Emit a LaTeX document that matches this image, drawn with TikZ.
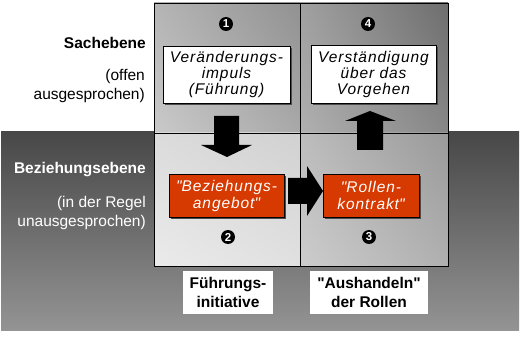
\documentclass[tikz,border=0pt]{standalone}
\usepackage{fontspec}
\setmainfont{Liberation Sans}
\newfontfamily\boxfont[LetterSpace=6]{Liberation Sans}
\usetikzlibrary{shadings}
\definecolor{redbox}{RGB}{214,58,0}
\tikzset{
  lbl/.style={anchor=east, align=right, inner sep=0pt, font=\fontsize{15.5}{18.5}\selectfont},
  wbox/.style={draw=black, line width=0.8pt, fill=white, align=center, inner sep=0pt,
     font=\boxfont\itshape\fontsize{15.5}{16}\selectfont},
  rbox/.style={draw=black, line width=0.8pt, fill=redbox, text=white, align=center, inner sep=0pt,
     font=\boxfont\itshape\fontsize{15.5}{17}\selectfont},
  blbl/.style={fill=white, align=center, inner sep=0pt, font=\bfseries\fontsize{15.5}{18.5}\selectfont},
  num/.style={circle, fill=black, inner sep=0pt, minimum size=14pt, text=white,
     font=\bfseries\fontsize{11.5}{11.5}\selectfont},
  blockarrow/.style={fill=black},
  gridline/.style={draw=black, line width=0.9pt}
}
\begin{document}
\begin{tikzpicture}[x=1pt,y=-1pt]
\useasboundingbox (0,0) rectangle (523,342);
\fill[white] (0,0) rectangle (523,342);
% dark band
\shade[top color=black!72, bottom color=black!42] (1,132) rectangle (519,331);
% grid cells
\shade[upper left=black!29, upper right=black!43, lower left=black!21, lower right=black!34] (154,3) rectangle (300,133);
\shade[upper left=black!37, upper right=black!57, lower left=black!31, lower right=black!47] (300,3) rectangle (448,133);
\shade[upper left=black!14, upper right=black!18, lower left=black!8, lower right=black!12] (154,133) rectangle (300,266);
\shade[upper left=black!26, upper right=black!40, lower left=black!20, lower right=black!31] (300,133) rectangle (448,266);
% grid lines
\draw[gridline] (154,3) rectangle (448,266);
\draw[gridline] (300,3) -- (300,266);
\draw[gridline] (154,133) -- (448,133);
% left labels
\node[lbl, font=\bfseries\fontsize{15.5}{18.5}\selectfont] (sach) at (146,43) {Sachebene};
\node[lbl] (offen) at (145,86) {(offen\\ausgesprochen)};
\node[lbl, text=white, font=\bfseries\fontsize{15.5}{18.5}\selectfont] (bez) at (146,170) {Beziehungsebene};
\node[lbl, text=white] (regel) at (146,213) {(in der Regel \\unausgesprochen)};
% numbers
\node[num] (n1) at (226,24) {1};
\node[num] (n4) at (368,24) {4};
\node[num] (n2) at (228,237) {2};
\node[num] (n3) at (369,237) {3};
% shadows
\fill[black!70] (165,48) rectangle (292,105);
\fill[black!70] (313,47) rectangle (438,105);
\fill[black!70] (171,176) rectangle (286,219);
\fill[black!70] (325,176) rectangle (421,219);
% boxes
\node[wbox, minimum width=127pt, minimum height=57pt] (b1) at (226.5,74.5) {Veränderungs-\\impuls\\(Führung)};
\node[wbox, minimum width=125pt, minimum height=58pt] (b4) at (373.5,74) {Verständigung\\über das\\Vorgehen};
\node[rbox, minimum width=115pt, minimum height=43pt] (b2) at (226.5,195.5) {\textquotedbl Beziehungs-\\angebot\textquotedbl};
\node[rbox, minimum width=96pt, minimum height=43pt] (b3) at (371,195.5) {\textquotedbl Rollen-\\kontrakt\textquotedbl};
% bottom labels
\node[blbl, minimum width=90pt, minimum height=43pt] (l1) at (228,292.5) {Führungs-\\initiative};
\node[blbl, minimum width=118pt, minimum height=43pt] (l2) at (369,292.5) {\textquotedbl Aushandeln\textquotedbl\\der Rollen};
% block arrows
\fill[blockarrow] (214,116) -- (239,116) -- (239,145) -- (252,145) -- (227,157) -- (201,145) -- (214,145) -- cycle;
\fill[blockarrow] (357,150) -- (383,150) -- (383,121) -- (396,121) -- (370,111) -- (345,121) -- (357,121) -- cycle;
\fill[blockarrow] (288,178) -- (307,178) -- (307,166) -- (323,191) -- (307,216) -- (307,204) -- (288,204) -- cycle;
\end{tikzpicture}
\end{document}
